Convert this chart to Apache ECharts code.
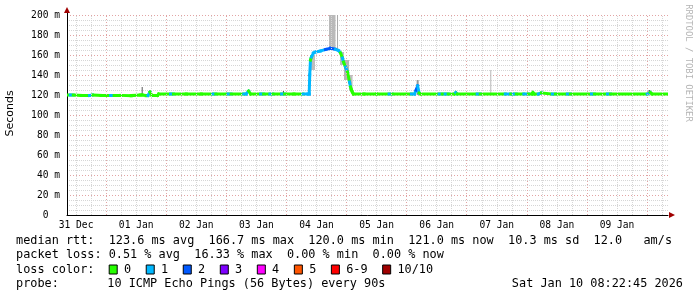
<!DOCTYPE html>
<html><head><meta charset="utf-8">
<script src="https://cdn.jsdelivr.net/npm/echarts@6/dist/echarts.min.js"></script>
<style>html,body{margin:0;padding:0;background:#fff}#c{width:697px;height:297px}</style>
</head><body><div id="c"></div>
<script>
// x values: hours since 31 Dec 00:00
const startHour = 8.375, endHour = 248.375;
const dayLabels = ['31 Dec','01 Jan','02 Jan','03 Jan','04 Jan','05 Jan','06 Jan','07 Jan','08 Jan','09 Jan'];
const dayLabelHours = [12,36,60,84,108,132,156,180,204,228];
const yMin = 0, yMax = 200, yStep = 20;

// median rtt: [hour, ms, lossLevel]
const median = [
  [8.4,120,0],[9.7,120,0],[10.9,120,1],[14,119.5,0],[17.4,119.5,0],[18.6,120,1],
  [22,119.5,0],[25.8,119.5,0],[27.2,119.5,1],[30,119.6,0],[34,119.4,0],[37.6,120,0],
  [38.4,120,0],[40,119.4,0],[40.7,119.5,0],[41.5,123,1],[42.3,119.5,0],[44.5,119.5,0],
  [45,121,0],[49.7,121,0],[50.9,121,1],[56,121,0],[62,121,0],[66.6,121,0],[67.8,121,1],
  [72.7,121,0],[73.9,121,1],[79,121,0],[79.9,121,1],[80.9,124,1],[81.7,121,0],
  [85.7,121,0],[86.9,121,1],[89.4,121,0],[90.6,121,1],[94.1,121,0],[95.3,121,1],
  [99,121,0],[102.6,121,0],[104.6,121,1],[105.1,121,1],
  [105.3,140,1],[105.6,155,1],[106.0,158,0],[106.8,162,1],[107.6,163,1],[109.6,164,1],
  [111.6,165.5,1],[113.6,166.7,2],[115.6,165.7,2],[116.8,164.5,1],[117.6,162,1],
  [118.4,157,0],[118.8,153,1],[119.6,148,0],[120.4,143,1],[121.2,133,0],[121.6,128,1],
  [122.0,125,0],[122.4,122.5,0],[122.8,121,0],
  [127,121,0],[132,121,0],[137,121,0],[138.2,121,1],[145.9,121,0],[147.1,121,1],
  [147.8,125,1],[148.4,129,2],[149.0,122,1],[149.6,121,0],[157,121,0],[158.2,121,1],
  [159.4,121,0],[160.6,121,1],[163,121,0],[163.6,122.5,0],[164.2,121,1],[172.2,121,0],
  [173.4,121,1],[183.4,121,0],[185.6,121,1],[186.6,121,0],[187.8,121,1],[190.8,121,0],
  [192.6,121,1],[194,121,0],[194.4,122.5,0],[195,121,0],[196.6,121,0],[197.8,122,1],
  [202.2,121,0],[203.4,121,1],[208.2,121,0],[209.4,121,1],[217.8,121,0],[219,121,1],
  [224.2,121,0],[225.4,121,1],[240.1,121,0],[241.3,122.5,1],[242,121,0],[248.4,121,0]
];

// smoke: [hourStart, hourEnd, lowMs, highMs, density 0..1]
const smoke = [
  [38.2,38.6,119.5,128,0.7],
  [94.6,95.0,120,124,0.8],
  [105.6,107.4,145,160,0.2],
  [113.0,115.6,166,205,0.22],
  [116.2,116.6,165,205,0.3],
  [117.4,119.0,150,163,0.2],
  [119.0,121.0,135,155,0.25],
  [121.0,122.4,124,140,0.2],
  [148.0,148.8,120,135,0.4],
  [177.4,177.8,121,145,0.23],
  [163.4,163.9,120,124,0.8],
  [194.2,194.7,120,124,0.8],
  [240.6,241.2,121,125,0.7]
];

const lossColors = ['#26ff00','#00b8ff','#0059ff','#7e00ff','#ff00ff','#ff5500','#ff0000','#a00000'];
const lossLabels = ['0','1','2','3','4','5','6-9','10/10'];
const rttStats = ['123.6 ms avg','166.7 ms max','120.0 ms min','121.0 ms now','10.3 ms sd','12.0   am/s'];
const lossStats = ['0.51 % avg','16.33 % max','0.00 % min','0.00 % now'];
const probeText = '10 ICMP Echo Pings (56 Bytes) every 90s';
const dateText = 'Sat Jan 10 08:22:45 2026';

const MONO = '"DejaVu Sans Mono", monospace';
const majorHours = [], minorHours = [];
for (let h = 6; h < endHour; h += 6) {
  if (h < startHour) continue;
  (h % 24 === 0 ? majorHours : minorHours).push(h);
}

const chart = echarts.init(document.getElementById('c'), null, {renderer: 'canvas'});
const option = {
  animation: false,
  backgroundColor: '#fff',
  grid: {left: 67, right: 29, top: 15, bottom: 82},
  xAxis: {
    type: 'value', min: startHour, max: endHour,
    splitLine: {show: false},
    axisTick: {show: false},
    axisLine: {lineStyle: {color: '#000', width: 1}},
    axisLabel: {
      customValues: dayLabelHours,
      formatter: v => dayLabels[dayLabelHours.indexOf(v)] || '',
      fontFamily: MONO, fontSize: 9.6, color: '#000', margin: 5
    }
  },
  yAxis: {
    type: 'value', min: yMin, max: yMax, interval: yStep,
    axisLine: {show: true, lineStyle: {color: '#000', width: 1}},
    axisTick: {show: false},
    axisLabel: {
      formatter: v => v === 0 ? '0  ' : v + ' m',
      fontFamily: MONO, fontSize: 9.6, color: '#000', margin: 7
    },
    splitLine: {show: true, lineStyle: {color: '#e2a4a4', type: [1, 2], width: 1}},
    minorTick: {show: false, splitNumber: 4},
    minorSplitLine: {show: true, lineStyle: {color: '#d6d6d6', type: [1, 1], width: 1}}
  },
  series: [
    {
      type: 'line', data: [], z: 1, silent: true,
      markLine: {
        silent: true, symbol: 'none', label: {show: false},
        data: minorHours.map(h => ({xAxis: h, lineStyle: {color: '#d6d6d6', type: [1, 1], width: 1}}))
          .concat(majorHours.map(h => ({xAxis: h, lineStyle: {color: '#e2a4a4', type: [1, 2], width: 1}})))
      }
    },
    {
      type: 'custom', z: 2, silent: true, clip: true,
      data: smoke,
      encode: {x: [0, 1], y: [2, 3]},
      renderItem: (params, api) => {
        const a = api.coord([api.value(0), api.value(3)]);
        const b = api.coord([api.value(1), api.value(2)]);
        const g = Math.round(230 - api.value(4) * 200);
        const rect = echarts.graphic.clipRectByRect(
          {x: a[0], y: a[1], width: Math.max(1, b[0] - a[0]), height: b[1] - a[1]},
          params.coordSys);
        return rect && {type: 'rect', shape: rect, style: {fill: 'rgb(' + g + ',' + g + ',' + g + ')'}};
      }
    },
    {
      type: 'custom', z: 3, silent: true, clip: true,
      data: median,
      encode: {x: 0, y: 1},
      renderItem: (params, api) => {
        const i = params.dataIndex;
        if (i === 0) return null;
        const prev = median[i - 1];
        const p0 = api.coord([prev[0], prev[1]]);
        const p1 = api.coord([api.value(0), api.value(1)]);
        return {type: 'line', shape: {x1: p0[0], y1: p0[1], x2: p1[0], y2: p1[1]},
          style: {stroke: lossColors[api.value(2)], lineWidth: 3, lineCap: 'square'}};
      }
    }
  ]
};
chart.setOption(option);

// decorations and legend text
const tl = chart.convertToPixel({gridIndex: 0}, [startHour, yMax]);
const br = chart.convertToPixel({gridIndex: 0}, [endHour, yMin]);
const gfx = [];
// axis arrows
gfx.push({type: 'polygon', shape: {points: [[tl[0] - 3, tl[1] - 2], [tl[0] + 3, tl[1] - 2], [tl[0], tl[1] - 8]]}, style: {fill: '#a00000'}, z: 10});
gfx.push({type: 'line', shape: {x1: tl[0] + 0.5, y1: tl[1], x2: tl[0] + 0.5, y2: tl[1] - 3}, style: {stroke: '#000', lineWidth: 1}, z: 9});
gfx.push({type: 'polygon', shape: {points: [[br[0] + 1, br[1] - 3], [br[0] + 1, br[1] + 3], [br[0] + 7, br[1]]]}, style: {fill: '#a00000'}, z: 10});
// y axis name
gfx.push({type: 'text', x: 10, y: 113.5, rotation: Math.PI / 2,
  style: {text: 'Seconds', font: '11px "DejaVu Sans", sans-serif', fill: '#000', align: 'center', verticalAlign: 'middle'}});
// watermark
gfx.push({type: 'text', x: 688, y: 63, rotation: -Math.PI / 2,
  style: {text: 'RRDTOOL / TOBI OETIKER', font: '8.9px ' + MONO, fill: '#b4b4b4', align: 'center', verticalAlign: 'middle'}});

const LF = '11.85px ' + MONO;
const rows = [241.3, 255.4, 269.5, 283.6];
const txt = (x, y, s, align) => gfx.push({type: 'text', x: x, y: y,
  style: {text: s, font: LF, fill: '#000', align: align || 'left', verticalAlign: 'middle'}});
txt(16, rows[0], 'median rtt:  ' + rttStats.join('  '));
txt(16, rows[1], 'packet loss: ' + lossStats.join('  '));
txt(16, rows[2], 'loss color:');
txt(16, rows[3], 'probe:');
txt(107.3, rows[3], probeText);
txt(683, rows[3], dateText, 'right');
const charW = 7.13;
let bx = 108.7;
lossLabels.forEach((lab, i) => {
  gfx.push({type: 'rect', shape: {x: bx + 0.5, y: rows[2] - 4.5, width: 8, height: 9},
    style: {fill: lossColors[i], stroke: '#000', lineWidth: 1}});
  txt(bx + 15.3, rows[2], lab);
  bx = bx + 15.3 + lab.length * charW + 14.6;
});
chart.setOption({graphic: {elements: gfx}});
</script></body></html>
